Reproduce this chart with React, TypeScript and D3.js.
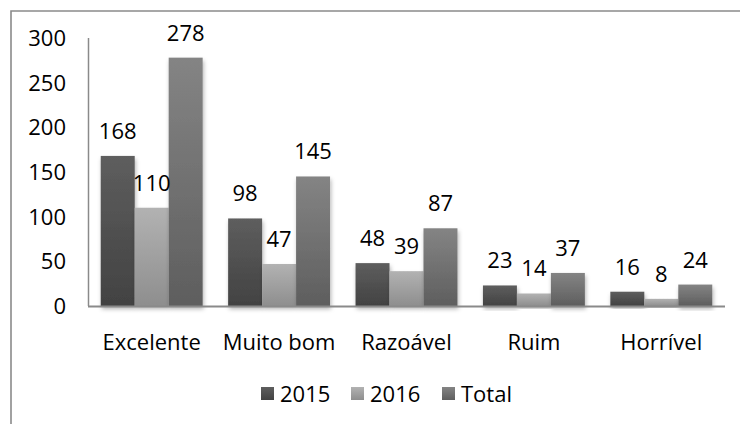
import React, { useRef, useEffect } from 'react';
import * as d3 from 'd3';

const categories = ['Excelente', 'Muito bom', 'Razoável', 'Ruim', 'Horrível'];
const seriesNames = ['2015', '2016', 'Total'];
const values2015 = [168, 98, 48, 23, 16];
const values2016 = [110, 47, 39, 14, 8];
const valuesTotal = [278, 145, 87, 37, 24];
const yTicks = [0, 50, 100, 150, 200, 250, 300];

// gradient stops (top, bottom) for each series
const fills = [
  ['#5e5e5e', '#424242'],
  ['#b2b2b2', '#8e8e8e'],
  ['#848484', '#5e5e5e'],
];

const W = 740;
const H = 424;
const FONT = '"Open Sans", sans-serif';

export default function App() {
  const svgRef = useRef<SVGSVGElement>(null);

  useEffect(() => {
    const svg = d3.select(svgRef.current);
    svg.selectAll('*').remove();

    const series = [values2015, values2016, valuesTotal];

    const x0 = d3.scaleBand().domain(categories).range([88, 725]).paddingInner(0.2).paddingOuter(0.1);
    const x1 = d3.scaleBand().domain(seriesNames).range([0, x0.bandwidth()]);
    const y = d3.scaleLinear().domain([0, 300]).range([306, 38]);

    const defs = svg.append('defs');
    fills.forEach((f, i) => {
      const g = defs.append('linearGradient')
        .attr('id', 'grad' + i)
        .attr('x1', 0).attr('y1', 0).attr('x2', 0).attr('y2', 1);
      g.append('stop').attr('offset', '0%').attr('stop-color', f[0]);
      g.append('stop').attr('offset', '100%').attr('stop-color', f[1]);
    });
    const filter = defs.append('filter').attr('id', 'shadow')
      .attr('x', '-20%').attr('y', '-10%').attr('width', '140%').attr('height', '130%');
    filter.append('feDropShadow')
      .attr('dx', 1).attr('dy', 3).attr('stdDeviation', 2)
      .attr('flood-color', '#000').attr('flood-opacity', 0.3);

    // outer frame (cut off on right and bottom)
    svg.append('path')
      .attr('d', `M11,${H + 5} L11,11 L${W + 5},11`)
      .attr('fill', 'none')
      .attr('stroke', '#8a8a8a')
      .attr('stroke-width', 1.6);

    // bars
    series.forEach((vals, si) => {
      svg.append('g')
        .selectAll('rect')
        .data(vals)
        .join('rect')
        .attr('x', (d, i) => x0(categories[i])! + x1(seriesNames[si])!)
        .attr('y', d => y(d))
        .attr('width', x1.bandwidth())
        .attr('height', d => y(0) - y(d))
        .attr('fill', `url(#grad${si})`)
        .attr('filter', 'url(#shadow)');
    });

    // axes lines
    svg.append('line')
      .attr('x1', 88.5).attr('x2', 88.5).attr('y1', y(300)).attr('y2', y(0))
      .attr('stroke', '#8a8a8a').attr('stroke-width', 1.5);
    svg.append('line')
      .attr('x1', 88).attr('x2', 725).attr('y1', y(0) + 0.5).attr('y2', y(0) + 0.5)
      .attr('stroke', '#8a8a8a').attr('stroke-width', 2);

    // y tick labels
    svg.append('g')
      .selectAll('text')
      .data(yTicks)
      .join('text')
      .attr('x', 66)
      .attr('y', d => y(d) + 8)
      .attr('text-anchor', 'end')
      .attr('font-family', FONT)
      .attr('font-size', 22)
      .attr('fill', '#000')
      .text(d => d);

    // category labels
    svg.append('g')
      .selectAll('text')
      .data(categories)
      .join('text')
      .attr('x', d => x0(d)! + x0.bandwidth() / 2)
      .attr('y', 350)
      .attr('text-anchor', 'middle')
      .attr('font-family', FONT)
      .attr('font-size', 22)
      .attr('fill', '#000')
      .text(d => d);

    // data labels
    series.forEach((vals, si) => {
      svg.append('g')
        .selectAll('text')
        .data(vals)
        .join('text')
        .attr('x', (d, i) => x0(categories[i])! + x1(seriesNames[si])! + x1.bandwidth() / 2)
        .attr('y', d => y(d) - 17)
        .attr('text-anchor', 'middle')
        .attr('font-family', FONT)
        .attr('font-size', 22)
        .attr('fill', '#000')
        .text(d => d);
    });

    // legend
    const legendX = [261, 351, 442];
    const lg = svg.append('g')
      .selectAll('g')
      .data(seriesNames)
      .join('g')
      .attr('transform', (d, i) => `translate(${legendX[i]},387)`);
    lg.append('rect')
      .attr('width', 13).attr('height', 13)
      .attr('fill', (d, i) => `url(#grad${i})`);
    lg.append('text')
      .attr('x', 19).attr('y', 14.5)
      .attr('font-family', FONT)
      .attr('font-size', 22)
      .attr('fill', '#000')
      .text(d => d);
  }, []);

  return (
    <svg
      ref={svgRef}
      width={W}
      height={H}
      viewBox={`0 0 ${W} ${H}`}
      style={{ position: 'absolute', left: 0, top: 0, background: '#fff' }}
    />
  );
}
